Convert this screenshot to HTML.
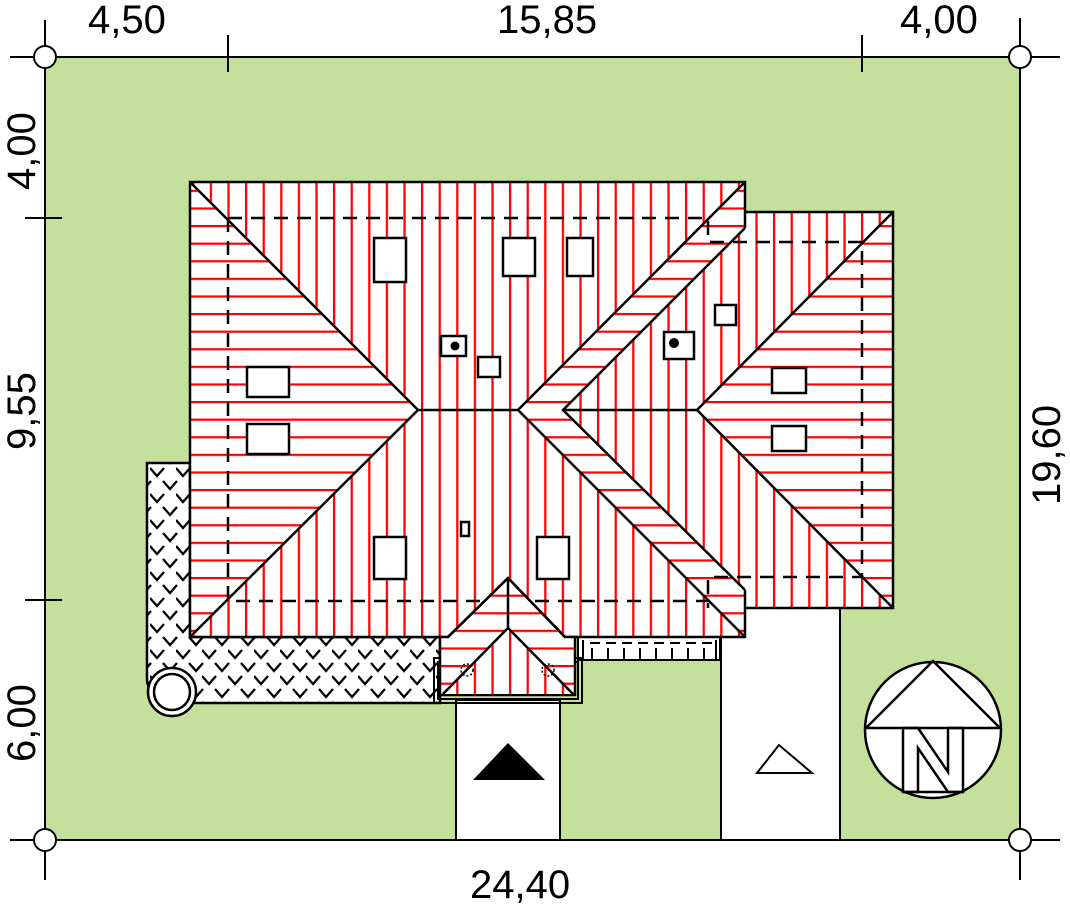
<!DOCTYPE html>
<html><head><meta charset="utf-8"><style>
html,body{margin:0;padding:0;background:#fff;}
svg{display:block;}
text{font-family:"Liberation Sans",sans-serif;font-size:40px;fill:#000;}
</style></head><body>
<svg width="1070" height="905" viewBox="0 0 1070 905" xmlns="http://www.w3.org/2000/svg">
<defs>
<pattern id="pv" patternUnits="userSpaceOnUse" x="509" y="0" width="17.6" height="20">
<rect width="17.6" height="20" fill="#fff"/>
<line x1="1" y1="0" x2="1" y2="20" stroke="#f00" stroke-width="2.5"/>
</pattern>
<pattern id="ph" patternUnits="userSpaceOnUse" x="0" y="401" width="20" height="17.6">
<rect width="20" height="17.6" fill="#fff"/>
<line x1="0" y1="1" x2="20" y2="1" stroke="#f00" stroke-width="2.5"/>
</pattern>
<pattern id="pc" patternUnits="userSpaceOnUse" x="150" y="466" width="26" height="26">
<rect width="26" height="26" fill="#fff"/>
<polyline points="0,2 7,10 14,2" fill="none" stroke="#000" stroke-width="2.3"/>
<polyline points="13,15 20,23 27,15" fill="none" stroke="#000" stroke-width="2.3"/>
<polyline points="-13,15 -6,23 1,15" fill="none" stroke="#000" stroke-width="2.3"/>
</pattern>
</defs>
<rect width="1070" height="905" fill="#fff"/>
<rect x="45" y="57" width="975" height="783" fill="#c5df9d"/>

<g stroke="#000" stroke-width="2" fill="none">
<line x1="10" y1="57" x2="1060" y2="57"/>
<line x1="10" y1="840" x2="1060" y2="840"/>
<line x1="45" y1="20" x2="45" y2="880"/>
<line x1="1020" y1="18" x2="1020" y2="880"/>
<line x1="228" y1="35" x2="228" y2="72"/>
<line x1="862" y1="35" x2="862" y2="72"/>
<line x1="25" y1="218" x2="62" y2="218"/>
<line x1="25" y1="600" x2="62" y2="600"/>
</g>
<g fill="#fff" stroke="#000" stroke-width="2">
<circle cx="45" cy="57" r="11"/><circle cx="1020" cy="57" r="11"/>
<circle cx="45" cy="840" r="11"/><circle cx="1020" cy="840" r="11"/>
</g>
<text x="88" y="33">4,50</text>
<text x="497" y="33">15,85</text>
<text x="900" y="33">4,00</text>
<text x="470" y="898">24,40</text>
<text transform="translate(35,190) rotate(-90)">4,00</text>
<text transform="translate(35,450) rotate(-90)">9,55</text>
<text transform="translate(35,762) rotate(-90)">6,00</text>
<text transform="translate(1060,505) rotate(-90)">19,60</text>

<rect x="456" y="700" width="104" height="140" fill="#fff" stroke="#000" stroke-width="2"/>
<rect x="721" y="608" width="119" height="232" fill="#fff" stroke="#000" stroke-width="2"/>
<polygon points="508,743 473,780 545,780" fill="#000"/>
<polygon points="779,745 757,773 812,773" fill="#fff" stroke="#000" stroke-width="2"/>

<path d="M147,463 H190 V637 H440 V703 H172 A25,25 0 0 1 147,678 Z" fill="url(#pc)" stroke="#000" stroke-width="2.5"/>
<circle cx="172" cy="692" r="24" fill="#fff" stroke="#000" stroke-width="2.5"/>
<circle cx="172" cy="692" r="18" fill="#fff" stroke="#000" stroke-width="2.5"/>

<rect x="578" y="637" width="142" height="23" fill="#fff" stroke="#000" stroke-width="2"/>
<g stroke="#000" stroke-width="2" fill="none">
<line x1="583" y1="640" x2="583" y2="660"/>
<path d="M590,643 H600 M606,643 H616 M622,643 H632 M638,643 H648 M654,643 H664 M670,643 H680 M686,643 H696 M702,643 H712"/>
<path d="M592,648 V660 M608,648 V660 M624,648 V660 M640,648 V660 M656,648 V660 M672,648 V660 M688,648 V660 M704,648 V660 M716,640 V660"/>
</g>

<path d="M190,182 H745 V212 H893 V608 H745 V637 H190 Z" fill="url(#pv)"/>
<polygon points="190,182 418,410 190,637" fill="url(#ph)"/>
<polygon points="745,182 518,410 745,637 745,590 563,410 745,228" fill="url(#ph)"/>
<polygon points="893,212 697,410 893,608" fill="url(#ph)"/>

<g stroke="#000" stroke-width="2.5" fill="none" stroke-dasharray="14,9">
<path d="M228,218 H708 V242 H862 V577 H708 V608"/>
<path d="M228,218 V601 H708"/>
</g>

<g stroke="#000" stroke-width="2.5" fill="none">
<path d="M190,637 V182 H745 V228"/>
<path d="M745,212 H893 V608 H745"/>
<path d="M745,590 V637 H190"/>
<path d="M190,182 L418,410 L190,637 M418,410 H518 M745,182 L518,410 L745,637 M745,228 L563,410 L745,590 M563,410 H697 M893,212 L697,410 L893,608"/>
</g>

<g fill="#fff" stroke="#000" stroke-width="2.5">
<rect x="374" y="238" width="32" height="44"/>
<rect x="503" y="238" width="32" height="38"/>
<rect x="567" y="238" width="26" height="38"/>
<rect x="247" y="367" width="42" height="30"/>
<rect x="247" y="424" width="42" height="30"/>
<rect x="374" y="537" width="32" height="42"/>
<rect x="537" y="537" width="32" height="42"/>
<rect x="772" y="368" width="34" height="25"/>
<rect x="772" y="426" width="34" height="25"/>
<rect x="441" y="336" width="25" height="20"/>
<rect x="664" y="332" width="30" height="27"/>
<rect x="478" y="357" width="22" height="20"/>
<rect x="715" y="305" width="21" height="20"/>
<rect x="461" y="522" width="8" height="14"/>
</g>
<circle cx="455" cy="346" r="4.5" fill="#000"/>
<circle cx="674" cy="343" r="5" fill="#000"/>

<g stroke="#000" stroke-width="2" fill="none">
<rect x="434" y="658" width="148" height="45"/>
<rect x="438" y="662" width="140" height="37"/>
</g>
<path d="M440,637 H448 L508,578 L565,637 H575 V695 H440 Z" fill="url(#ph)" stroke="#000" stroke-width="2.5"/>
<polygon points="508,628 443,694 573,694" fill="url(#pv)"/>
<g stroke="#000" stroke-width="2.5" fill="none">
<path d="M448,637 L508,578 L565,637 M508,578 V628 M443,694 L508,628 L573,694"/>
</g>
<g stroke="#000" stroke-width="1.5" fill="none" stroke-dasharray="2,2">
<circle cx="467" cy="670" r="6"/><circle cx="548" cy="670" r="6"/>
</g>

<circle cx="933" cy="730" r="68" fill="#fff" stroke="#000" stroke-width="2.5"/>
<g stroke="#000" stroke-width="2.5" fill="none">
<path d="M866,728 L933,661 L1000,728 M866,728 H1000"/>
<path d="M903,792 V728 H918 L948,772 V728 H963 V792 H948 L918,748 V792 Z"/>
<path d="M903,792 H963"/>
</g>
</svg>
</body></html>
